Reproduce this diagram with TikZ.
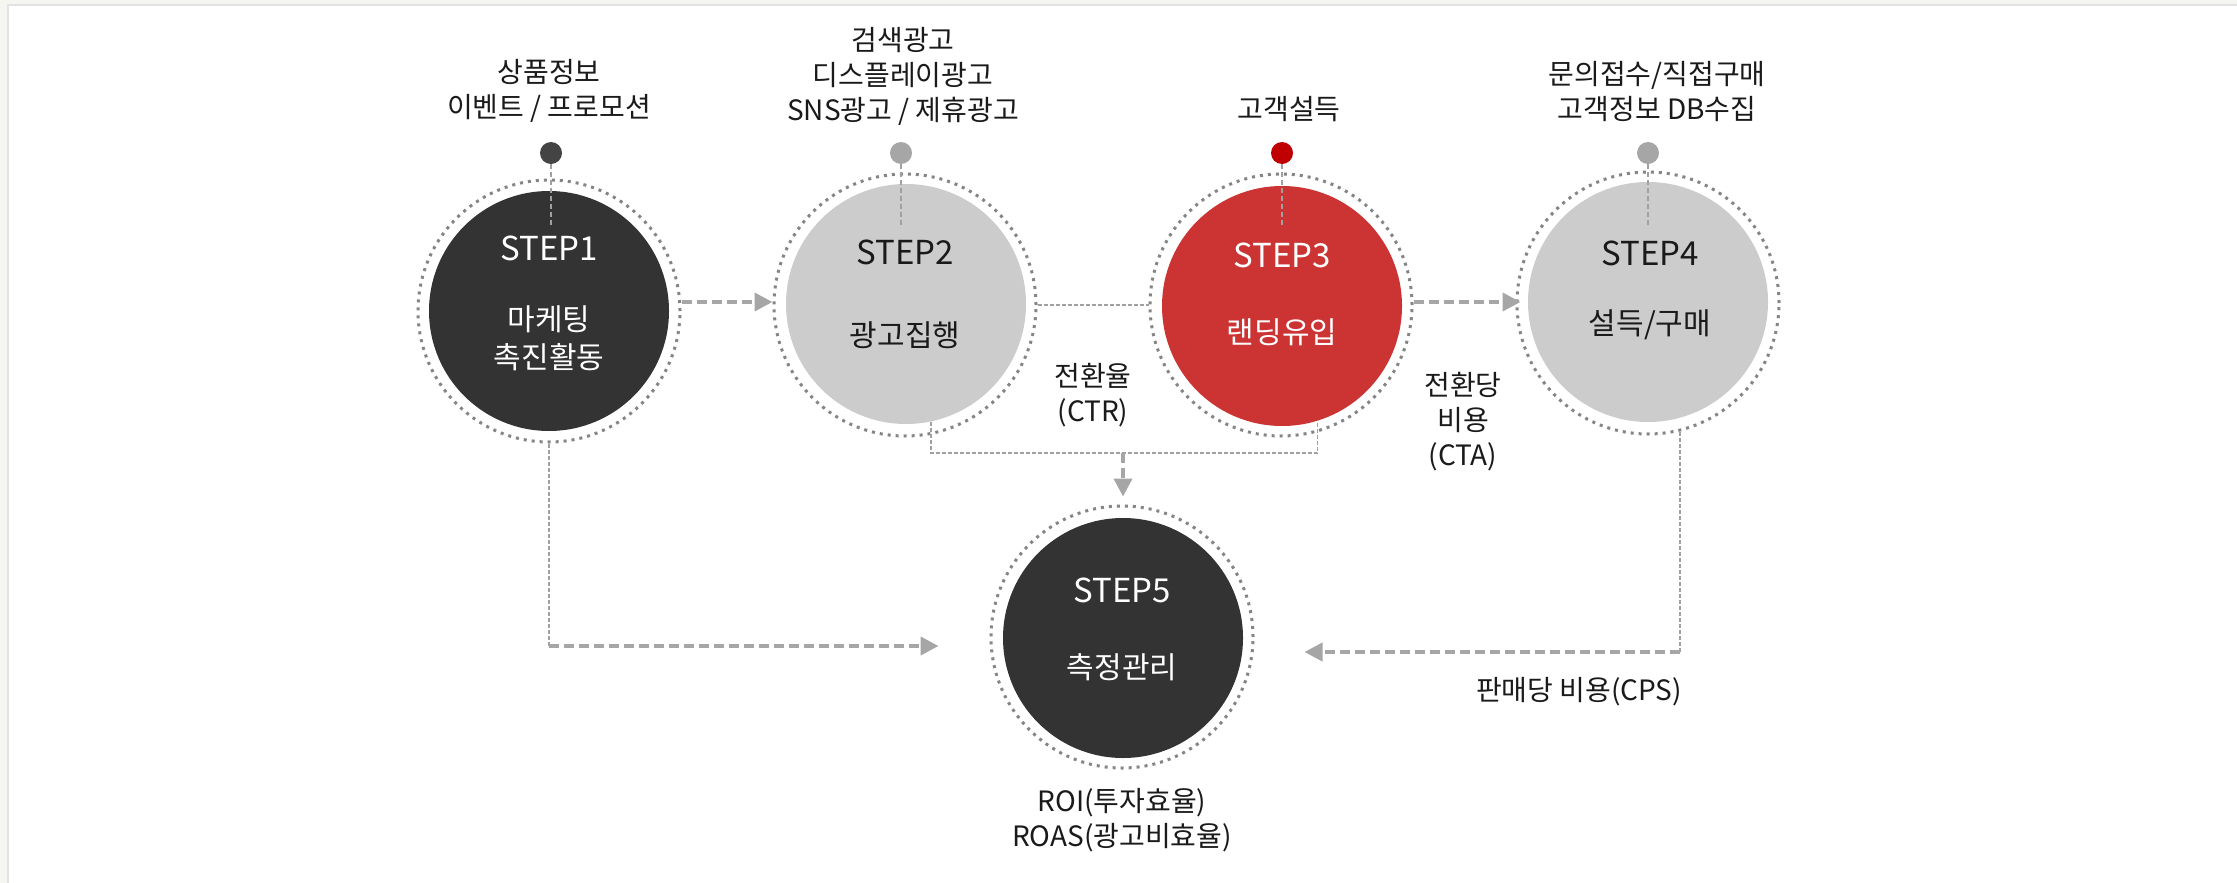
\documentclass[tikz,border=0pt]{standalone}
\usepackage{fontspec}
\setmainfont{Noto Sans CJK KR}
\usetikzlibrary{arrows.meta}
\definecolor{darkc}{HTML}{333333}
\definecolor{grayc}{HTML}{CCCCCC}
\definecolor{redc}{HTML}{CC3333}
\definecolor{dotdark}{HTML}{444444}
\definecolor{dotgray}{HTML}{A6A6A6}
\definecolor{dotred}{HTML}{C00000}
\definecolor{ringc}{HTML}{858585}
\definecolor{linec}{HTML}{A0A0A0}
\definecolor{arrowc}{HTML}{A6A6A6}
\definecolor{txt}{HTML}{1A1A1A}
\definecolor{bgstrip}{HTML}{F5F5F1}
\definecolor{borderc}{HTML}{E3E3E3}
\begin{document}
\begin{tikzpicture}[x=1pt,y=-1pt,
  disc/.style={circle,minimum size=240pt,inner sep=0pt},
  ring/.style={circle,minimum size=262pt,inner sep=0pt,draw=ringc,line width=3pt,dash pattern=on 3pt off 5pt},
  pin/.style={circle,minimum size=22pt,inner sep=0pt},
  pinline/.style={draw=linec,line width=1.5pt,dash pattern=on 5pt off 3pt},
  thinline/.style={draw=linec,line width=1.3pt,dash pattern=on 4pt off 2pt},
  thickarrow/.style={draw=arrowc,line width=4pt,dash pattern=on 10pt off 5pt,-{Triangle[length=18pt,width=18pt]}},
  lbl/.style={text=txt,font=\fontsize{28}{35}\selectfont,align=center,inner sep=0pt},
  steptxt/.style={font=\fontsize{33}{40}\selectfont,inner sep=0pt},
  subtxt/.style={font=\fontsize{30}{38}\selectfont,align=center,inner sep=0pt}]

\useasboundingbox (0,0) rectangle (2237,883);
\fill[white] (0,0) rectangle (2237,883);
\fill[bgstrip] (0,0) rectangle (2237,4);
\fill[bgstrip] (0,0) rectangle (7,883);
\draw[borderc,line width=1.5pt] (8,883) -- (8,5) -- (2237,5);

% rings and discs
\node[ring] (s1ring) at (549,311) {};
\node[disc,fill=darkc] (s1disc) at (549,311) {};
\node[ring] (s2ring) at (905,305) {};
\node[disc,fill=grayc] (s2disc) at (906,304) {};
\node[ring] (s3ring) at (1281,305) {};
\node[disc,fill=redc] (s3disc) at (1282,306) {};
\node[ring] (s4ring) at (1648,303) {};
\node[disc,fill=grayc] (s4disc) at (1648,302) {};
\node[ring] (s5ring) at (1122,637) {};
\node[disc,fill=darkc] (s5disc) at (1123,638) {};

% pins
\node[pin,fill=dotdark] (p1) at (551,153) {};
\node[pin,fill=dotgray] (p2) at (901,153) {};
\node[pin,fill=dotred] (p3) at (1282,153) {};
\node[pin,fill=dotgray] (p4) at (1648,153) {};
\coordinate (pe) at (0,227);
\draw[pinline] (p1.south) -- (p1.south |- pe);
\draw[pinline] (p2.south) -- (p2.south |- pe);
\draw[pinline] (p3.south) -- (p3.south |- pe);
\draw[pinline] (p4.south) -- (p4.south |- pe);

% labels above
\node[lbl] (l1) at (549,91) {상품정보\\이벤트 / 프로모션};
\node[lbl] (l2) at (903,76) {검색광고\\디스플레이광고\\SNS광고 / 제휴광고};
\node[lbl] (l3) at (1289,109) {고객설득};
\node[lbl] (l4) at (1657,92) {문의접수/직접구매\\고객정보 DB수집};

% circle texts
\node[steptxt,text=white] (t1) at (549,248) {STEP1};
\node[subtxt,text=white] (u1) at (549,338) {마케팅\\촉진활동};
\node[steptxt,text=txt] (t2) at (905,252) {STEP2};
\node[subtxt,text=txt] (u2) at (905,335) {광고집행};
\node[steptxt,text=white] (t3) at (1282,255) {STEP3};
\node[subtxt,text=white] (u3) at (1282,332) {랜딩유입};
\node[steptxt,text=txt] (t4) at (1650,253) {STEP4};
\node[subtxt,text=txt] (u4) at (1650,325) {설득/구매};
\node[steptxt,text=white] (t5) at (1122,590) {STEP5};
\node[subtxt,text=white] (u5) at (1122,667) {측정관리};

% side labels
\node[lbl] (ctr) at (1093,395) {전환율\\(CTR)};
\node[lbl] (cta) at (1463,422) {전환당\\비용\\(CTA)};
\node[lbl] (cps) at (1579,692) {판매당 비용(CPS)};
\node[lbl] (roi) at (1122,820) {ROI(투자효율)\\ROAS(광고비효율)};

% connectors
\coordinate (ya) at (0,302);
\draw[thickarrow] (s1ring.east |- ya) -- (s2ring.west |- ya);
\draw[thinline] (s2ring.east) -- (s3ring.west);
\draw[thickarrow,shorten >=-5pt] (s3ring.east |- ya) -- (s4ring.west |- ya);

\coordinate (c2) at (0,453);
\draw[thinline] (s2disc.-78.5) -- (s2disc.-78.5 |- c2) -- (s3disc.-73 |- c2) -- (s3disc.-73);
\coordinate (m) at (1123,453);
\draw[thickarrow,shorten >=8pt] (m) -- (m |- s5ring.north);

\coordinate (bl) at (0,646);
\draw[thinline] (s1ring.south) -- (s1ring.south |- bl);
\draw[thickarrow,shorten >=51pt] (s1ring.south |- bl) -- (s5ring.west |- bl);

\coordinate (br) at (0,652);
\draw[thinline] (s4ring.-76) -- (s4ring.-76 |- br);
\draw[thickarrow,shorten >=50pt] (s4ring.-76 |- br) -- (s5ring.east |- br);
\end{tikzpicture}
\end{document}
